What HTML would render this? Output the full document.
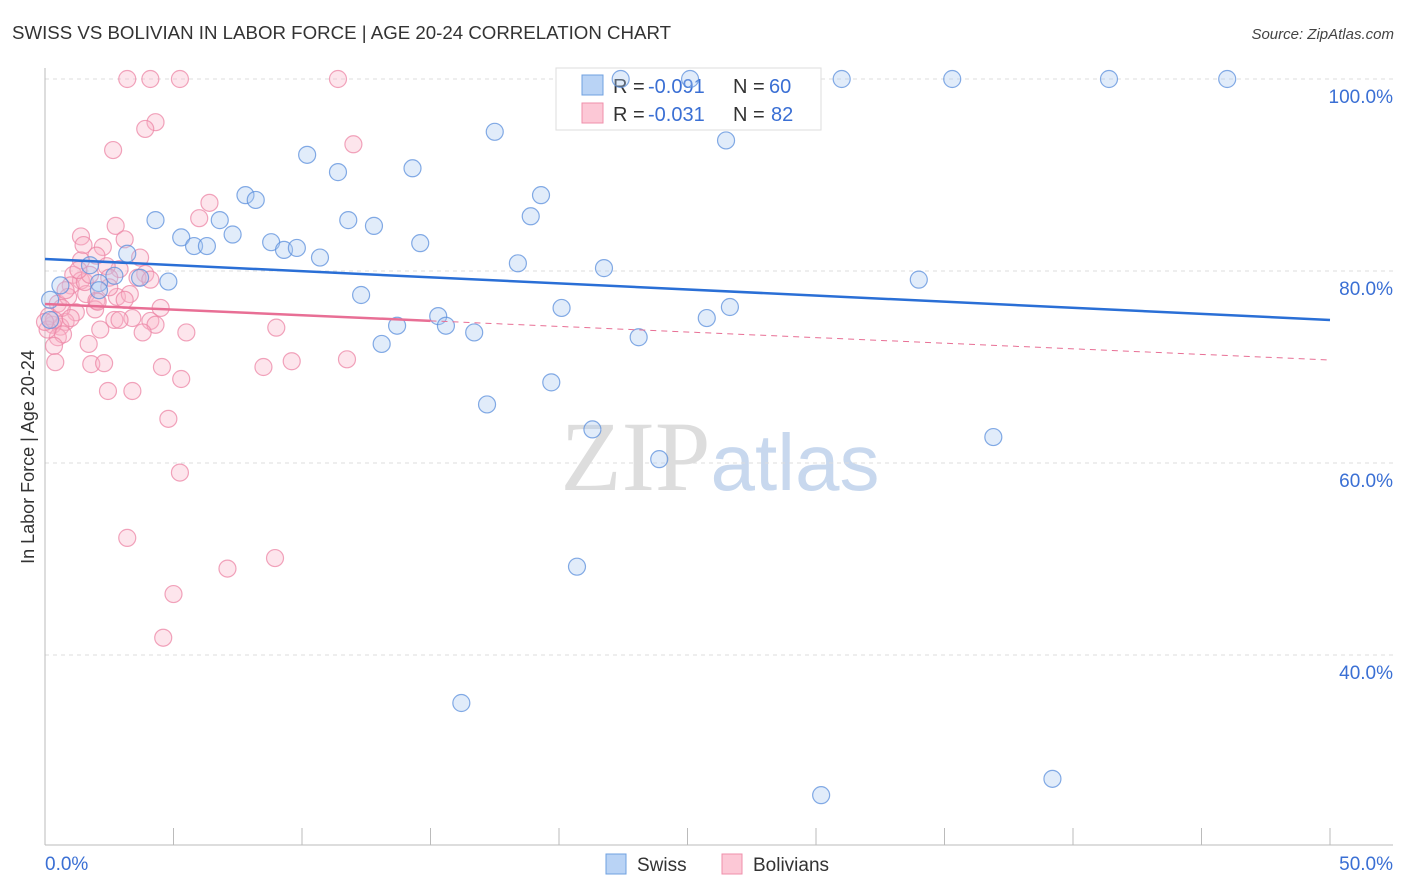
<!DOCTYPE html>
<html><head><meta charset="utf-8"><style>
body{margin:0;background:#fff;font-family:"Liberation Sans",sans-serif;}
svg{display:block}
</style></head><body>
<svg id="chart" width="1406" height="892" xmlns="http://www.w3.org/2000/svg">
<text x="12" y="39" font-size="18" fill="#333" textLength="659" lengthAdjust="spacingAndGlyphs">SWISS VS BOLIVIAN IN LABOR FORCE | AGE 20-24 CORRELATION CHART</text>
<text x="1394" y="39" font-size="15" fill="#444" font-style="italic" text-anchor="end">Source: ZipAtlas.com</text>
<text x="720" y="490" font-size="100" text-anchor="middle"><tspan fill="#ddd" font-family="Liberation Serif,serif">ZIP</tspan><tspan fill="#c8d8ee" font-size="80">atlas</tspan></text>
<g id="grid"></g><g id="axes"></g>
<g>
<rect x="556" y="68" width="265" height="62" fill="#fff" stroke="#ddd"/>
<rect x="582" y="75" width="21" height="20" fill="#b9d3f5" stroke="#6fa0e0"/>
<rect x="582" y="103" width="21" height="20" fill="#fcc8d6" stroke="#ef8fab"/>
<text x="613" y="93" font-size="20" fill="#333">R =</text>
<text x="648" y="93" font-size="20" fill="#3a6fd4">-0.091</text>
<text x="733" y="93" font-size="20" fill="#333">N =</text>
<text x="769" y="93" font-size="20" fill="#3a6fd4">60</text>
<text x="613" y="121" font-size="20" fill="#333">R =</text>
<text x="648" y="121" font-size="20" fill="#3a6fd4">-0.031</text>
<text x="733" y="121" font-size="20" fill="#333">N =</text>
<text x="771" y="121" font-size="20" fill="#3a6fd4">82</text>
</g>
<g id="trends"></g><g id="pts"></g>
<text transform="translate(34,457) rotate(-90)" font-size="18" fill="#333" text-anchor="middle">In Labor Force | Age 20-24</text>
<g>
<rect x="606" y="854" width="20" height="20" fill="#b9d3f5" stroke="#6fa0e0"/>
<text x="637" y="871" font-size="19" fill="#333">Swiss</text>
<rect x="722" y="854" width="20" height="20" fill="#fcc8d6" stroke="#ef8fab"/>
<text x="753" y="871" font-size="19" fill="#333">Bolivians</text>
</g>
</svg>
<script>
const swissX=[22.4,25.1,31.0,35.3,41.4,46.0,17.5,26.5,10.2,11.4,14.3,7.8,8.2,19.3,4.3,6.8,11.8,18.9,12.8,5.3,5.8,6.3,7.3,8.8,9.3,9.8,14.6,10.7,3.2,1.75,18.4,21.75,4.8,3.7,0.6,2.1,2.7,34.0,12.3,0.2,20.1,26.65,25.75,15.3,15.6,13.7,16.7,23.1,13.1,19.7,17.2,21.3,36.9,23.9,20.7,16.2,39.2,30.2,0.2,2.1];
const swissY=[100,100,100,100,100,100,94.5,93.6,92.1,90.3,90.7,87.9,87.4,87.9,85.3,85.3,85.3,85.7,84.7,83.5,82.6,82.6,83.8,83.0,82.2,82.4,82.9,81.4,81.8,80.6,80.8,80.3,78.9,79.3,78.5,78.75,79.5,79.1,77.5,77.0,76.15,76.25,75.1,75.3,74.3,74.3,73.6,73.1,72.4,68.4,66.1,63.5,62.7,60.4,49.2,35.0,27.1,25.4,74.9,78.0];
const bolX=[3.2,4.1,5.25,11.4,4.3,3.9,2.65,12.0,6.4,6.0,2.75,1.4,3.1,1.5,2.25,2.0,1.4,2.9,2.4,1.1,1.4,3.9,3.6,2.5,1.0,1.6,2.8,2.0,3.3,0.5,0.9,1.2,1.95,2.7,3.4,4.1,4.5,4.3,3.8,5.5,9.0,0.8,0.6,0.3,0.15,0.5,0.7,0.35,1.7,1.8,2.3,0.4,4.55,8.5,9.6,11.75,5.3,2.45,3.4,4.8,5.25,3.2,8.95,7.1,5.0,4.6,0.65,0.1,0.35,1.0,2.05,1.55,0.8,1.75,4.1,2.9,2.15,3.1,3.7,2.5,1.3,0];
const bolY=[100,100,100,100,95.5,94.8,92.6,93.2,87.1,85.5,84.7,83.6,83.3,82.7,82.5,81.6,81.1,80.2,80.5,79.6,79.0,79.7,79.3,79.3,78.5,77.6,77.3,76.9,77.6,76.6,77.3,75.7,76.0,74.9,75.1,74.8,76.15,74.4,73.6,73.6,74.1,74.7,74.2,74.4,75.3,73.1,73.4,72.2,72.4,70.3,70.4,70.5,70.0,70.0,70.6,70.8,68.75,67.5,67.5,64.6,59.0,52.2,50.1,49.0,46.35,41.8,76.15,73.9,74.9,75.1,76.8,78.85,78.0,79.6,79.1,74.9,73.9,77.0,81.4,78.3,80.1,74.7];
const swissTrend=[81.25,74.9];
const bolTrend=[76.56,70.73];
const bolSolidEnd=15;
const yTicks=[100,80,60,40];
const xTickVals=[0,5,10,15,20,25,30,35,40,45,50];
const NS="http://www.w3.org/2000/svg";
const sx=v=>45+v*25.7, sy=v=>79+(100-v)*9.6;
function mk(t,a,p){const e=document.createElementNS(NS,t);for(const k in a)e.setAttribute(k,a[k]);document.getElementById(p).appendChild(e);return e;}
yTicks.forEach(v=>{
 const l=mk('line',{x1:45,x2:1393,y1:sy(v),y2:sy(v),stroke:'#ddd','stroke-dasharray':'4,4'},'grid');
 
 
 const t=mk('text',{x:1393,y:sy(v)+24,'font-size':19,fill:'#3a6fd4','text-anchor':'end'},'grid');
 t.textContent=v.toFixed(1)+'%';
 
 
});
mk('line',{x1:45,x2:45,y1:68,y2:845,stroke:'#bbb'},'axes');
mk('line',{x1:45,x2:1393,y1:845,y2:845,stroke:'#bbb'},'axes');
xTickVals.forEach(v=>{
 const l=mk('line',{x1:sx(v),x2:sx(v),y1:828,y2:845,stroke:'#bbb'},'axes');
 
 
});
[[0,'start',45],[50,'end',1393]].forEach(([v,a,x])=>{
 const t=mk('text',{x:x,y:870,'font-size':19,fill:'#3a6fd4','text-anchor':a},'axes');
 t.textContent=v.toFixed(1)+'%';
 
 
});
function dots(X,Y,fill,stroke,name){X.forEach((x,i)=>{
 const c=mk('circle',{cx:sx(x),cy:sy(Y[i]),r:8.5,fill:fill,'fill-opacity':0.35,stroke:stroke,'stroke-opacity':0.75,'stroke-width':1.2},'pts');
 
 
});}
dots(bolX,bolY,'#f8b4c8','#ec86a6','bolivian-point');
dots(swissX,swissY,'#a9c8f0','#5b8fdc','swiss-point');
const bAt=x=>bolTrend[0]+(bolTrend[1]-bolTrend[0])*x/50;
let l=mk('line',{x1:sx(bolSolidEnd),y1:sy(bAt(bolSolidEnd)),x2:sx(50),y2:sy(bolTrend[1]),stroke:'#e86f95','stroke-width':1,'stroke-dasharray':'6,5'},'trends');

l=mk('line',{x1:sx(0),y1:sy(bolTrend[0]),x2:sx(bolSolidEnd),y2:sy(bAt(bolSolidEnd)),stroke:'#e86f95','stroke-width':2.5},'trends');

l=mk('line',{x1:sx(0),y1:sy(swissTrend[0]),x2:sx(50),y2:sy(swissTrend[1]),stroke:'#2a6fd6','stroke-width':2.5},'trends');

document.getElementById('trends').parentNode.appendChild(document.getElementById('trends'));
</script>
</body></html>
